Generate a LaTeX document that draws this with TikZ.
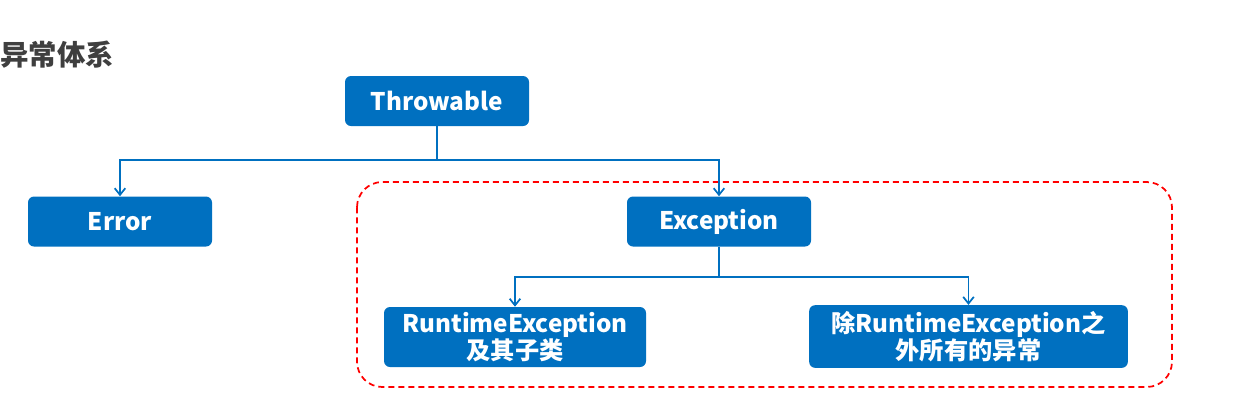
\documentclass[tikz,border=0pt]{standalone}
\usepackage{fontspec}
\setmainfont{Noto Sans CJK SC}
\usetikzlibrary{arrows.meta, positioning}
\usepackage{xcolor}
\definecolor{BoxBlue}{HTML}{0070C0}
\definecolor{TitleGray}{HTML}{3F3F3F}
\definecolor{GroupRed}{HTML}{FF0000}
\tikzset{
    % Box styles - rounded blue boxes
    classbox/.style={
        rectangle,
        rounded corners=4.5pt,
        draw=none,
        fill=BoxBlue,
        text=white,
        minimum width=138pt,
        minimum height=37.5pt,
        align=center,
        inner sep=0pt,
        font=\fontsize{18.2}{22}\selectfont\bfseries
    },
    title/.style={
        text=TitleGray,
        inner sep=0pt,
        font=\fontsize{21.3}{25}\selectfont\bfseries
    },
    % Group style - dashed red frame
    groupbox/.style={
        draw=GroupRed,
        line width=1.3pt,
        dash pattern=on 4.5pt off 3pt,
        rounded corners=19pt
    },
    % Arrow styles - straight lines only
    arrow/.style={
        -{Straight Barb[length=5pt,width=8pt]},
        line width=1.3pt,
        draw=BoxBlue
    }
}
\begin{document}
\begin{tikzpicture}[x=0.75pt, y=-0.75pt]
    \useasboundingbox (0,0) rectangle (1235,404);

    \node[title, anchor=west] (head) at (0,55) {异常体系};

    \draw[groupbox] (357,182) rectangle (1172,387);

    \node[classbox] (throwable) at (437,101) {Throwable};
    \node[classbox] (error) at (120,221.5) {Error};
    \node[classbox] (exception) at (719,221.5) {Exception};
    \node[classbox, minimum width=196.5pt, minimum height=45pt] (runtime) at (515,337) {RuntimeException\\[-1.5pt]及其子类};
    \node[classbox, minimum width=239pt, minimum height=47pt] (checked) at (968.5,336.5) {除RuntimeException之\\[-1.5pt]外所有的异常};

    \draw[arrow] (throwable.south) -- ++(0,34) -| (error.north);
    \draw[arrow] (throwable.south) -- ++(0,34) -| (exception.north);
    \draw[arrow] (exception.south) -- ++(0,30) -| (runtime.north);
    \draw[arrow] (exception.south) -- ++(0,30) -| (checked.north);
\end{tikzpicture}
\end{document}
